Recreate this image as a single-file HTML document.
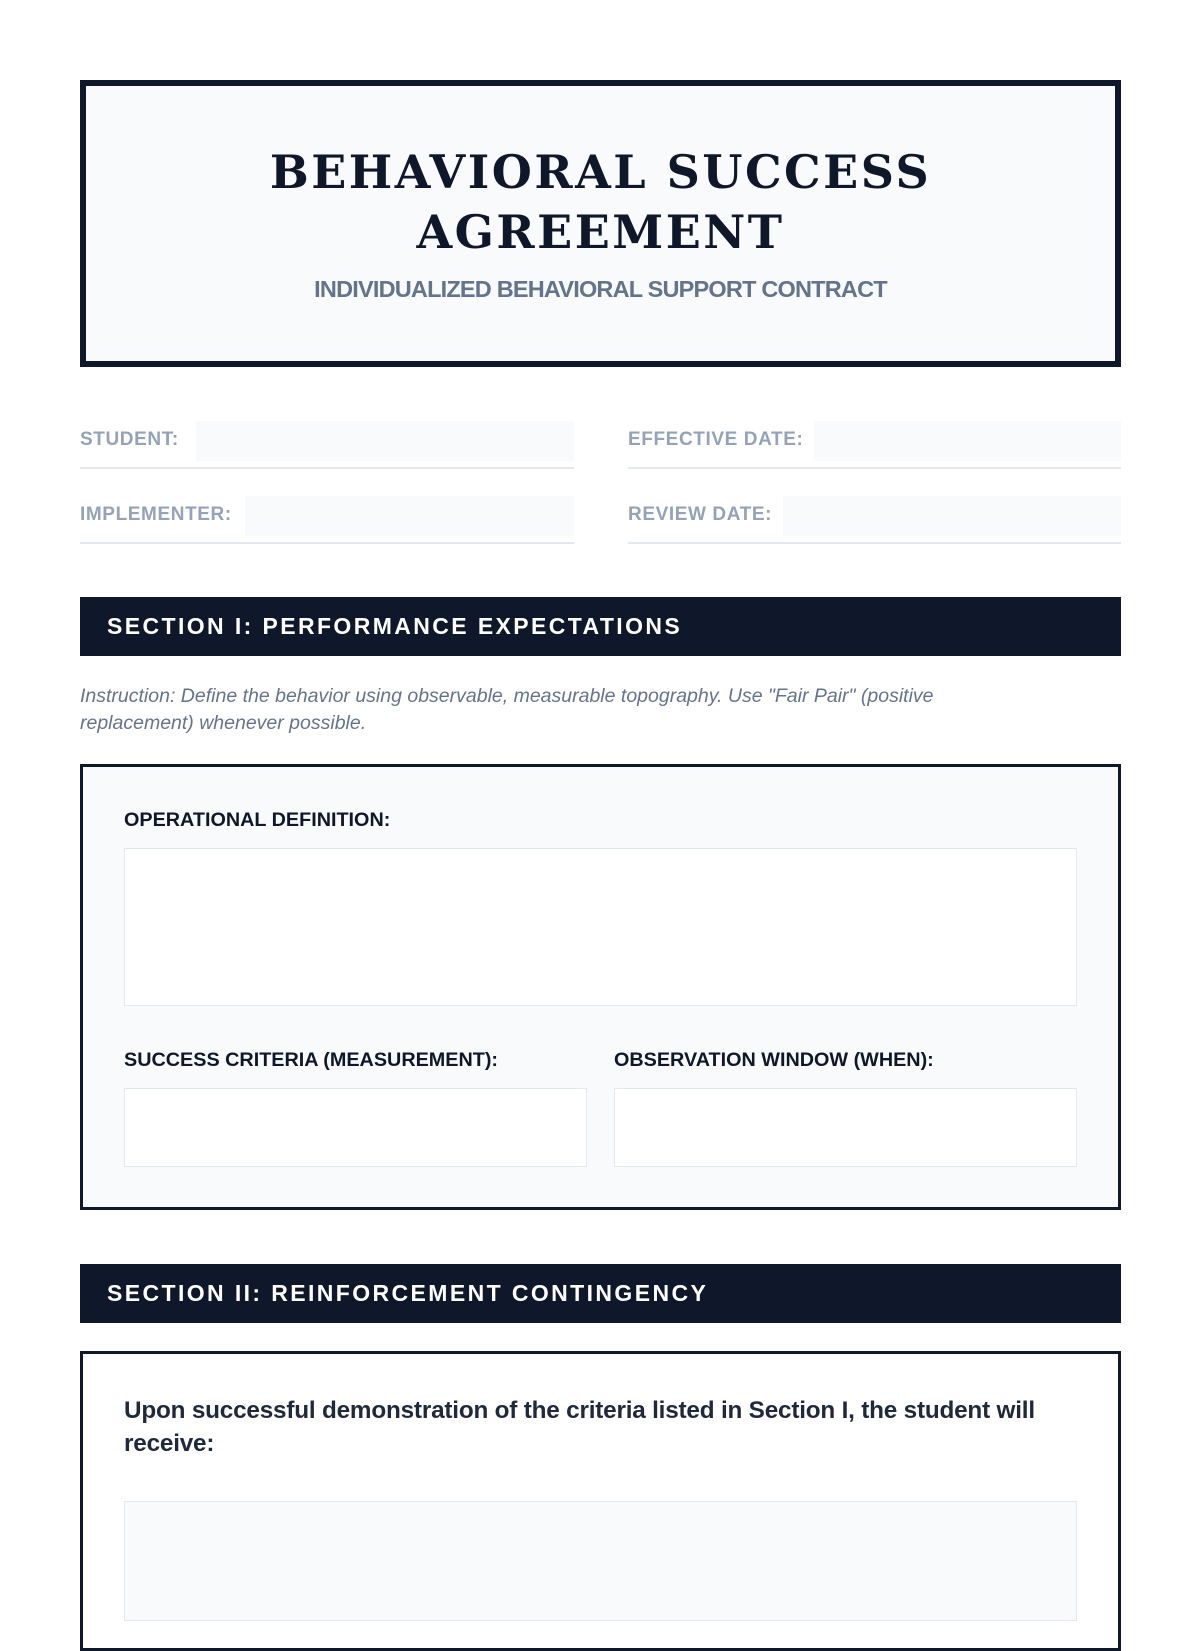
<!DOCTYPE html>
<html><head><meta charset="utf-8"><style>
*{box-sizing:border-box;margin:0;padding:0}
body{width:1200px;height:1600px;overflow:hidden;background:#fff;font-family:"Liberation Sans",sans-serif;position:relative;color:#0f172a}
.a{position:absolute}
.hdr{left:80px;top:80px;width:1041px;height:287px;border:6px solid #0f172a;background:#f8fafc}
.title{left:80px;width:1041px;top:142px;text-align:center;font-family:"DejaVu Serif",serif;font-weight:bold;font-size:46px;line-height:60px;letter-spacing:2.5px;color:#0f172a}
.sub{left:80px;width:1041px;top:276px;text-align:center;font-weight:bold;font-size:23.5px;letter-spacing:-0.8px;color:#64748b}
.lbl{font-weight:bold;font-size:19px;color:#94a3b8;letter-spacing:0.6px}
.inp{background:#f8fafc;height:40px}
.line{height:2px;background:#e2e8f0}
.bar{left:80px;width:1041px;height:59px;background:#0f172a;color:#fff;font-weight:bold;font-size:23px;letter-spacing:2.4px;line-height:59px;padding-left:27px}
.ins{left:80px;width:945px;top:683px;font-style:italic;font-size:19.5px;line-height:27px;color:#64748b}
.box{left:80px;width:1041px;border:3px solid #0f172a}
.fl{font-weight:bold;font-size:19.8px;color:#0f172a}
.ta{background:#fff;border:1.5px solid #e2e8f0}
</style></head><body>
<div class="a hdr"></div>
<div class="a title">BEHAVIORAL SUCCESS<br>AGREEMENT</div>
<div class="a sub">INDIVIDUALIZED BEHAVIORAL SUPPORT CONTRACT</div>

<div class="a lbl" style="left:80px;top:429px">STUDENT:</div>
<div class="a inp" style="left:196px;top:421px;width:378px"></div>
<div class="a line" style="left:80px;top:467px;width:494px"></div>
<div class="a lbl" style="left:80px;top:504px">IMPLEMENTER:</div>
<div class="a inp" style="left:245px;top:496px;width:329px"></div>
<div class="a line" style="left:80px;top:542px;width:494px"></div>

<div class="a lbl" style="left:628px;top:429px">EFFECTIVE DATE:</div>
<div class="a inp" style="left:814px;top:421px;width:307px"></div>
<div class="a line" style="left:628px;top:467px;width:493px"></div>
<div class="a lbl" style="left:628px;top:504px">REVIEW DATE:</div>
<div class="a inp" style="left:783px;top:496px;width:338px"></div>
<div class="a line" style="left:628px;top:542px;width:493px"></div>

<div class="a bar" style="top:597px">SECTION I: PERFORMANCE EXPECTATIONS</div>
<div class="a ins">Instruction: Define the behavior using observable, measurable topography. Use "Fair Pair" (positive replacement) whenever possible.</div>

<div class="a box" style="top:764px;height:446px;background:#f8fafc"></div>
<div class="a fl" style="left:124px;top:809px">OPERATIONAL DEFINITION:</div>
<div class="a ta" style="left:124px;top:848px;width:953px;height:158px"></div>
<div class="a fl" style="left:124px;top:1049px">SUCCESS CRITERIA (MEASUREMENT):</div>
<div class="a fl" style="left:614px;top:1049px">OBSERVATION WINDOW (WHEN):</div>
<div class="a ta" style="left:124px;top:1088px;width:463px;height:79px"></div>
<div class="a ta" style="left:614px;top:1088px;width:463px;height:79px"></div>

<div class="a bar" style="top:1264px">SECTION II: REINFORCEMENT CONTINGENCY</div>
<div class="a box" style="top:1351px;height:300px;background:#fff"></div>
<div class="a" style="left:124px;top:1394px;width:960px;font-weight:bold;font-size:24.3px;line-height:33px;color:#1e293b;letter-spacing:-0.2px">Upon successful demonstration of the criteria listed in Section I, the student will receive:</div>
<div class="a" style="left:124px;top:1501px;width:953px;height:120px;background:#f8fafc;border:1.5px solid #e2e8f0"></div>
</body></html>
